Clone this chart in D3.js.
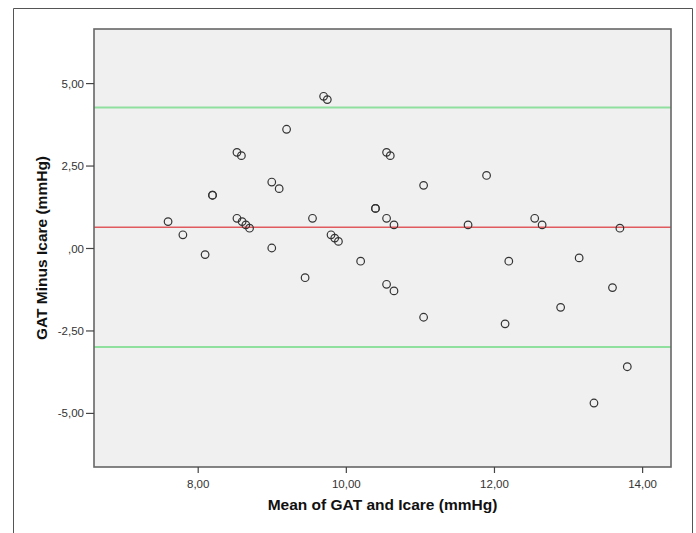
<!DOCTYPE html>
<html>
<head>
<meta charset="utf-8">
<script src="https://cdn.jsdelivr.net/npm/d3@7/dist/d3.min.js"></script>
<style>
  html, body { margin: 0; padding: 0; background: #fff; }
  svg text { font-family: Arial, "Liberation Sans", sans-serif; }
</style>
</head>
<body>
<svg id="chart" width="696" height="533"></svg>
<script>
// mean of GAT and Icare (x) and GAT minus Icare (y)
const meanVals = [7.6, 7.8, 8.1, 8.2, 8.2, 8.53, 8.59, 8.53, 8.6, 8.65, 8.7,
  9.0, 9.1, 9.0, 9.2, 9.45, 9.55, 9.7, 9.75, 9.8, 9.85, 9.9,
  10.2, 10.4, 10.4, 10.55, 10.6, 10.55, 10.65, 10.55, 10.65, 11.05, 11.05,
  11.65, 11.9, 12.2, 12.15, 12.55, 12.65, 12.9, 13.15, 13.35, 13.6, 13.7, 13.8];
const diffVals = [0.8, 0.4, -0.2, 1.6, 1.6, 2.9, 2.8, 0.9, 0.8, 0.7, 0.6,
  2.0, 1.8, 0.0, 3.6, -0.9, 0.9, 4.6, 4.5, 0.4, 0.3, 0.2,
  -0.4, 1.2, 1.2, 2.9, 2.8, 0.9, 0.7, -1.1, -1.3, 1.9, -2.1,
  0.7, 2.2, -0.4, -2.3, 0.9, 0.7, -1.8, -0.3, -4.7, -1.2, 0.6, -3.6];

// limits of agreement
const meanDiff = 0.63;
const upperLoA = 4.26;
const lowerLoA = -3.0;

const xTicks = [8, 10, 12, 14];
const yTicks = [-5, -2.5, 0, 2.5, 5];

const svg = d3.select('#chart');
const plot = { left: 94, top: 29, right: 671, bottom: 467 };

const x = d3.scaleLinear().domain([6.6, 14.39]).range([plot.left, plot.right]);
const y = d3.scaleLinear().domain([-6.64, 6.64]).range([plot.bottom, plot.top]);

// komma als decimaalteken, gewoon streepje als minteken
const fmt = v => {
  const s = v.toFixed(2).replace('.', ',');
  return s.replace(/^0,/, ',').replace(/^-0,/, '-,');
};

// outer frame
svg.append('path')
  .attr('d', 'M13.5,533 V8.5 H692.5 V533')
  .attr('fill', 'none')
  .attr('stroke', '#555')
  .attr('stroke-width', 1);

// plot background
svg.append('rect')
  .attr('x', plot.left).attr('y', plot.top)
  .attr('width', plot.right - plot.left)
  .attr('height', plot.bottom - plot.top)
  .attr('fill', '#f0f0f0');

// reference lines
const refLines = [
  { v: upperLoA, c: '#8fe09f', w: 2 },
  { v: meanDiff, c: '#e05a5e', w: 1.6 },
  { v: lowerLoA, c: '#8fe09f', w: 2 }
];
svg.selectAll('line.ref')
  .data(refLines)
  .enter().append('line')
  .attr('class', 'ref')
  .attr('x1', plot.left).attr('x2', plot.right)
  .attr('y1', d => y(d.v)).attr('y2', d => y(d.v))
  .attr('stroke', d => d.c)
  .attr('stroke-width', d => d.w);

// points
svg.selectAll('circle.pt')
  .data(meanVals.map((m, i) => [m, diffVals[i]]))
  .enter().append('circle')
  .attr('class', 'pt')
  .attr('cx', d => x(d[0]))
  .attr('cy', d => y(d[1]))
  .attr('r', 3.8)
  .attr('fill', 'none')
  .attr('stroke', '#333')
  .attr('stroke-width', 1.2);

// plot border
svg.append('rect')
  .attr('x', plot.left).attr('y', plot.top)
  .attr('width', plot.right - plot.left)
  .attr('height', plot.bottom - plot.top)
  .attr('fill', 'none')
  .attr('stroke', '#666')
  .attr('stroke-width', 1.6);

// axes
const xAxis = svg.append('g')
  .attr('transform', `translate(0,${plot.bottom})`)
  .call(d3.axisBottom(x).tickValues(xTicks).tickFormat(fmt).tickSize(6).tickSizeOuter(0));
const yAxis = svg.append('g')
  .attr('transform', `translate(${plot.left},0)`)
  .call(d3.axisLeft(y).tickValues(yTicks).tickFormat(fmt).tickSize(8).tickSizeOuter(0));

[xAxis, yAxis].forEach(g => {
  g.select('.domain').remove();
  g.selectAll('line').attr('stroke', '#444').attr('stroke-width', 1.2);
  g.selectAll('text')
    .attr('fill', '#333')
    .style('font-size', '11.5px')
    .style('font-family', 'Arial, "Liberation Sans", sans-serif');
});
xAxis.selectAll('text').attr('dy', '1.05em');
yAxis.selectAll('text').attr('x', -10).attr('dy', '0.35em');

// axis titles
svg.append('text')
  .attr('x', (plot.left + plot.right) / 2)
  .attr('y', 510)
  .attr('text-anchor', 'middle')
  .style('font-size', '15.5px')
  .style('font-weight', 'bold')
  .attr('fill', '#111')
  .text('Mean of GAT and Icare (mmHg)');

svg.append('text')
  .attr('transform', `translate(47,${(plot.top + plot.bottom) / 2}) rotate(-90)`)
  .attr('text-anchor', 'middle')
  .style('font-size', '15.5px')
  .style('font-weight', 'bold')
  .attr('fill', '#111')
  .text('GAT Minus Icare (mmHg)');
</script>
</body>
</html>
